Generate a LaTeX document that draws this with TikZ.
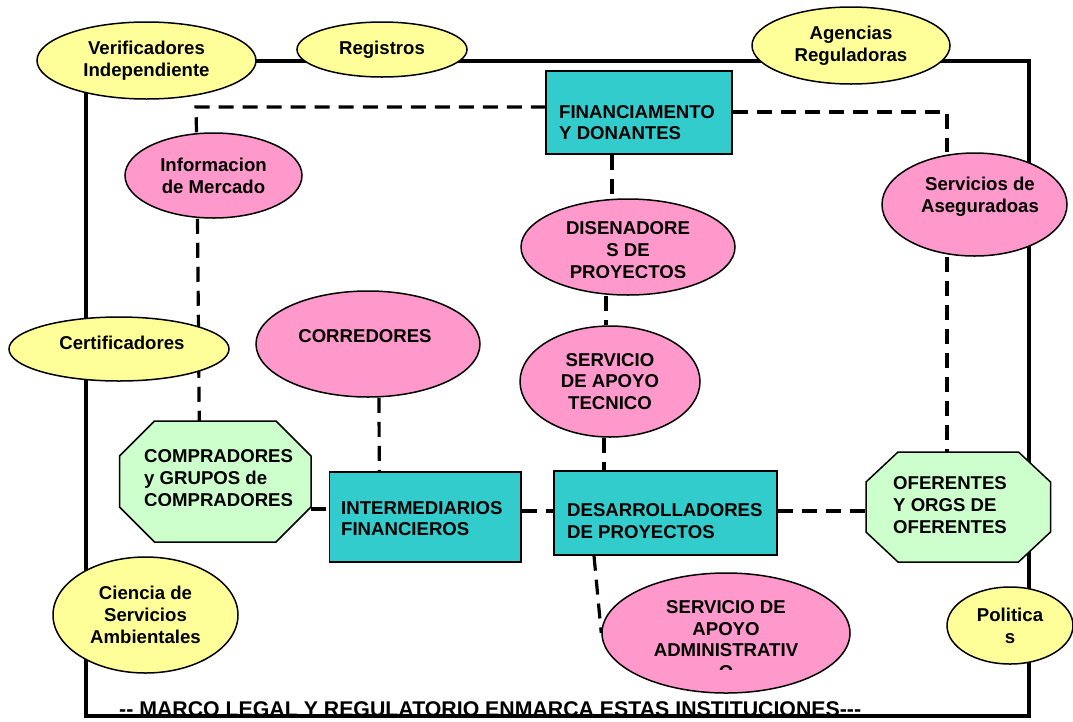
\documentclass[tikz,border=0pt]{standalone}
\usepackage{fontspec}
\setmainfont{Liberation Sans}[Ligatures=TeXOff]
\usetikzlibrary{shapes.geometric}
\usetikzlibrary{calc}
\usepackage{xcolor}
\definecolor{amarillo}{HTML}{FFFF99}
\definecolor{rosa}{HTML}{FF99CC}
\definecolor{turquesa}{HTML}{33CCCC}
\definecolor{verdecl}{HTML}{CCFFCC}
\newcommand{\lblfont}{\fontsize{18.6}{21.7}\selectfont\bfseries}
\pgfdeclarelayer{fondo}
\pgfsetlayers{fondo,main}

\begin{document}
\begin{tikzpicture}[x=1pt, y=-1pt]
        % ================= estilos =================
        \tikzset{
            % elipses de fuera del marco (amarillas) y de servicios (rosas)
            elipA/.style={ellipse, draw=black, line width=1.5pt, fill=amarillo, inner sep=0pt, align=center, font=\lblfont},
            elipR/.style={elipA, fill=rosa},
            % cajas de actores principales
            caja/.style={rectangle, draw=black, line width=1.5pt, fill=turquesa},
            % octagonos de compradores / oferentes: caja invisible + borde
            octbox/.style={rectangle, inner sep=0pt, outer sep=0pt},
            octline/.style={draw=black, line width=1.5pt, fill=verdecl},
            % textos
            txt/.style={font=\lblfont, align=center, inner sep=0pt},
            txtl/.style={txt, align=left, anchor=west},
            % enlaces punteados y marco
            enlace/.style={line width=3.2pt, dash pattern=on 15pt off 9pt},
            marco/.style={line width=4pt}
        }
        \useasboundingbox (0,0) rectangle (1073,721);

        % ================= actores (cajas y octagonos) =================
        \node[caja, minimum width=186, minimum height=83] (fin) at (639,112.5) {};
        \node[txtl] (fin-t) at (559,122.5) {FINANCIAMENTO\\Y DONANTES};

        \node[caja, minimum width=191.5, minimum height=90] (inter) at (425.25,517) {};
        \node[txtl] (inter-t) at (341,518.5) {INTERMEDIARIOS\\FINANCIEROS};

        \node[caja, minimum width=223, minimum height=84] (des) at (665.5,513) {};
        \node[txtl] (des-t) at (567,521) {DESARROLLADORES\\DE PROYECTOS};

        % compradores (esquinas cortadas 35)
        \node[octbox, minimum width=191.5, minimum height=121] (comp) at (215.25,481.5) {};
        \draw[octline] ($(comp.north west)+(35,0)$) -- ($(comp.north east)+(-35,0)$)
            -- ($(comp.north east)+(0,35)$) -- ($(comp.south east)+(0,-35)$)
            -- ($(comp.south east)+(-35,0)$) -- ($(comp.south west)+(35,0)$)
            -- ($(comp.south west)+(0,-35)$) -- ($(comp.north west)+(0,35)$) -- cycle;
        \begin{scope}
            \clip (100,400) rectangle (330,505);
            \node[txtl] (comp-t) at (144,478) {COMPRADORES\\y GRUPOS de\\COMPRADORES};
        \end{scope}

        % oferentes (esquinas cortadas 32 x 30)
        \node[octbox, minimum width=184.5, minimum height=110] (ofer) at (958.25,507) {};
        \draw[octline] ($(ofer.north west)+(32,0)$) -- ($(ofer.north east)+(-32,0)$)
            -- ($(ofer.north east)+(0,30)$) -- ($(ofer.south east)+(0,-30)$)
            -- ($(ofer.south east)+(-32,0)$) -- ($(ofer.south west)+(32,0)$)
            -- ($(ofer.south west)+(0,-30)$) -- ($(ofer.north west)+(0,30)$) -- cycle;
        \node[txtl] (ofer-t) at (893,505) {OFERENTES\\Y ORGS DE\\OFERENTES};

        % ================= servicios (elipses rosas) =================
        \node[elipR, minimum width=177, minimum height=85] (info) at (213.5,175.5) {Informacion\\de Mercado};

        \node[elipR, minimum width=185, minimum height=103] (aseg) at (974.5,204.5) {};
        \node[txt] (aseg-t) at (980,197) {Servicios de\\Aseguradoas};

        \node[elipR, minimum width=214, minimum height=96] (dis) at (628,247) {};
        \begin{scope}
            \clip (500,190) rectangle (760,277);
            \node[txt] (dis-t) at (628,250) {DISENADORE\\S DE\\PROYECTOS};
        \end{scope}

        \node[elipR, minimum width=224, minimum height=106] (cor) at (368,344) {};
        \node[txt] (cor-t) at (365,336) {CORREDORES};

        \node[elipR, minimum width=180, minimum height=111] (tec) at (610,381.5) {SERVICIO\\DE APOYO\\TECNICO};

        \node[elipR, minimum width=248, minimum height=120] (admin) at (726,633) {};
        \begin{scope}
            \clip (590,570) rectangle (860,669);
            \node[txt] (admin-t) at (726,639.5) {SERVICIO DE\\APOYO\\ADMINISTRATIV\\O};
        \end{scope}

        % ================= entorno (elipses amarillas) =================
        \node[elipA, minimum width=219, minimum height=77] (verif) at (146.5,60.5) {Verificadores\\Independiente};
        \node[elipA, minimum width=170, minimum height=55] (reg) at (382,49.5) {Registros};
        \node[elipA, minimum width=198, minimum height=77] (agen) at (851,45.5) {Agencias\\Reguladoras};
        \node[elipA, minimum width=220, minimum height=64] (cert) at (119,349) {};
        \node[txt] (cert-t) at (122,343) {Certificadores};
        \node[elipA, minimum width=185, minimum height=116] (cien) at (145.5,615) {Ciencia de\\Servicios\\Ambientales};
        \node[elipA, minimum width=126, minimum height=77] (pol) at (1010,625.5) {Politica\\s};

        % ================= marco y enlaces (al fondo) =================
        \begin{pgfonlayer}{fondo}
            \draw[marco] (86,61) rectangle (1029,716);
            \coordinate (codoI) at (196,107);
            \coordinate (codoD) at (947,112);
            \draw[enlace] ([xshift=-17]info.north) -- (codoI) -- (codoI -| fin.west);
            \draw[enlace] (codoD -| fin.east) -- (codoD) -- (codoD |- aseg.north);
            \draw[enlace] ([xshift=-27]fin.south) -- ([xshift=-16]dis.north);
            \draw[enlace] ([xshift=-22]dis.south) -- ([xshift=-4]tec.north);
            \draw[enlace] ([xshift=-6]tec.south) -- ([xshift=-61.5]des.north);
            \draw[enlace] ([xshift=11]cor.south) -- ([xshift=-46]inter.north);
            \draw[enlace] ([xshift=-16]info.south) -- ([xshift=-16]comp.north);
            \draw[enlace] ([yshift=-27.5]comp.east) -- ([yshift=8]inter.west);
            \draw[enlace] ([yshift=6]inter.east) -- ([yshift=2]des.west);
            \draw[enlace] ([yshift=2]des.east) -- ([yshift=-4]ofer.west);
            \draw[enlace] (codoD |- aseg.south) -- (codoD |- ofer.north);
            \draw[enlace] ([xshift=-71.5]des.south) -- (admin.west);
        \end{pgfonlayer}

        \node[anchor=base west, inner sep=0pt, font=\fontsize{21.3}{25}\selectfont\bfseries] (marco-t) at (119,716)
            {-- MARCO LEGAL Y REGULATORIO ENMARCA ESTAS INSTITUCIONES---};

\end{tikzpicture}
\end{document}
